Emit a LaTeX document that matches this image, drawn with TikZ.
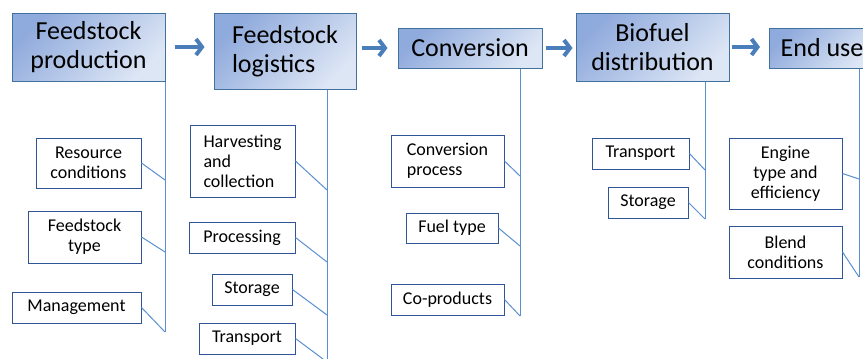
\documentclass[tikz,border=0pt]{standalone}
\usepackage{fontspec}
\setmainfont{Carlito}
\usetikzlibrary{arrows.meta}
\definecolor{hdrdark}{HTML}{8FAADC}
\definecolor{hdrlight}{HTML}{DDE6F5}
\definecolor{hdrline}{HTML}{41719C}
\definecolor{boxline}{HTML}{2F5597}
\definecolor{linkline}{HTML}{5B8FD0}
\definecolor{flowarrow}{HTML}{4A7EBB}

\begin{document}
\begin{tikzpicture}[x=1pt,y=-1pt,
    stage/.style={draw=hdrline,line width=1pt,top color=hdrdark,bottom color=hdrlight,shading angle=45,
      font=\fontsize{26}{29}\selectfont,align=center,inner sep=0pt},
    item/.style={draw=boxline,line width=1pt,fill=white,font=\fontsize{18}{20}\selectfont,align=center,inner sep=0pt},
    link/.style={draw=linkline,line width=1pt},
    flow/.style={flowarrow,line width=4pt,-{Straight Barb[length=6pt,width=16pt]}}]
    \useasboundingbox (0,0) rectangle (863,359);
    \clip (0,0) rectangle (863,359);

    % main chain
    \node [stage,minimum width=153pt,minimum height=68pt] (fp) at (88.5,47) {Feedstock\\production};
    \node [stage,minimum width=142pt,minimum height=76pt,align=left] (fl) at (285,51) {Feedstock\\logistics};
    \node [stage,minimum width=144pt,minimum height=40pt] (cv) at (470,48) {Conversion};
    \node [stage,minimum width=153pt,minimum height=68pt] (bd) at (652.5,47) {Biofuel\\distribution};
    \node [stage,minimum width=105pt,minimum height=40pt,anchor=west] (eu) at (769,48) {End use};

    \draw [flow,shorten <=9pt,shorten >=9pt] (fp.east) -- (fp.east -| fl.west);
    \draw [flow,shorten <=5pt,shorten >=10pt] (cv.west -| fl.east) -- (cv.west);
    \draw [flow,shorten <=3pt,shorten >=3pt] (cv.east) -- (cv.east -| bd.west);
    \draw [flow,shorten <=2pt,shorten >=9pt] (bd.east) -- (bd.east -| eu.west);

    % sub items
    \node [item,minimum width=105pt,minimum height=50pt] (rc) at (88.5,163) {Resource\\conditions};
    \node [item,minimum width=113pt,minimum height=52pt] (ft) at (84.5,237) {Feedstock\\type};
    \node [item,minimum width=129pt,minimum height=31pt] (mg) at (76.5,307.5) {Management};

    \node [item,minimum width=105pt,minimum height=72pt,align=left] (hc) at (242.5,161) {Harvesting\\and\\collection};
    \node [item,minimum width=106pt,minimum height=31pt] (pr) at (242,237.5) {Processing};
    \node [item,minimum width=80pt,minimum height=31pt] (ls) at (252,289.5) {Storage};
    \node [item,minimum width=96pt,minimum height=31pt] (lt) at (247,338.5) {Transport};

    \node [item,minimum width=113pt,minimum height=52pt,align=left] (cp) at (447.5,161) {Conversion\\process};
    \node [item,minimum width=92pt,minimum height=30pt] (fu) at (452,228) {Fuel type};
    \node [item,minimum width=113pt,minimum height=31pt] (co) at (447.5,299.5) {Co-products};

    \node [item,minimum width=97pt,minimum height=31pt] (dt) at (640.5,153.5) {Transport};
    \node [item,minimum width=80pt,minimum height=31pt] (ds) at (648,202.5) {Storage};

    \node [item,minimum width=113pt,minimum height=71pt] (en) at (785.5,173.5) {Engine\\type and\\efficiency};
    \node [item,minimum width=113pt,minimum height=52pt] (bl) at (785.5,252) {Blend\\conditions};

    % stems
    \coordinate (fp-end) at (165,332);
    \coordinate (fl-end) at (327,365);
    \coordinate (cv-end) at (520,316);
    \coordinate (bd-end) at (705,219);
    \coordinate (eu-end) at (859,277);
    \foreach \s in {fp,fl,cv,bd,eu}
      \draw [link] (\s.south -| \s-end) -- (\s-end);

    \foreach \b/\x/\y in {rc/165/180,ft/165/252,mg/165/332,hc/327/190,pr/327/262,ls/327/315,lt/327/362,
      cp/520/176,fu/520/246,co/520/316,dt/705/170,ds/705/219,en/859/179,bl/859/277}
      \coordinate (\b-j) at (\x,\y);
    \foreach \b in {rc,ft,mg,hc,pr,ls,lt,cp,fu,co,dt,ds,en,bl}
      \draw [link] (\b.east) -- (\b-j);
\end{tikzpicture}
\end{document}
